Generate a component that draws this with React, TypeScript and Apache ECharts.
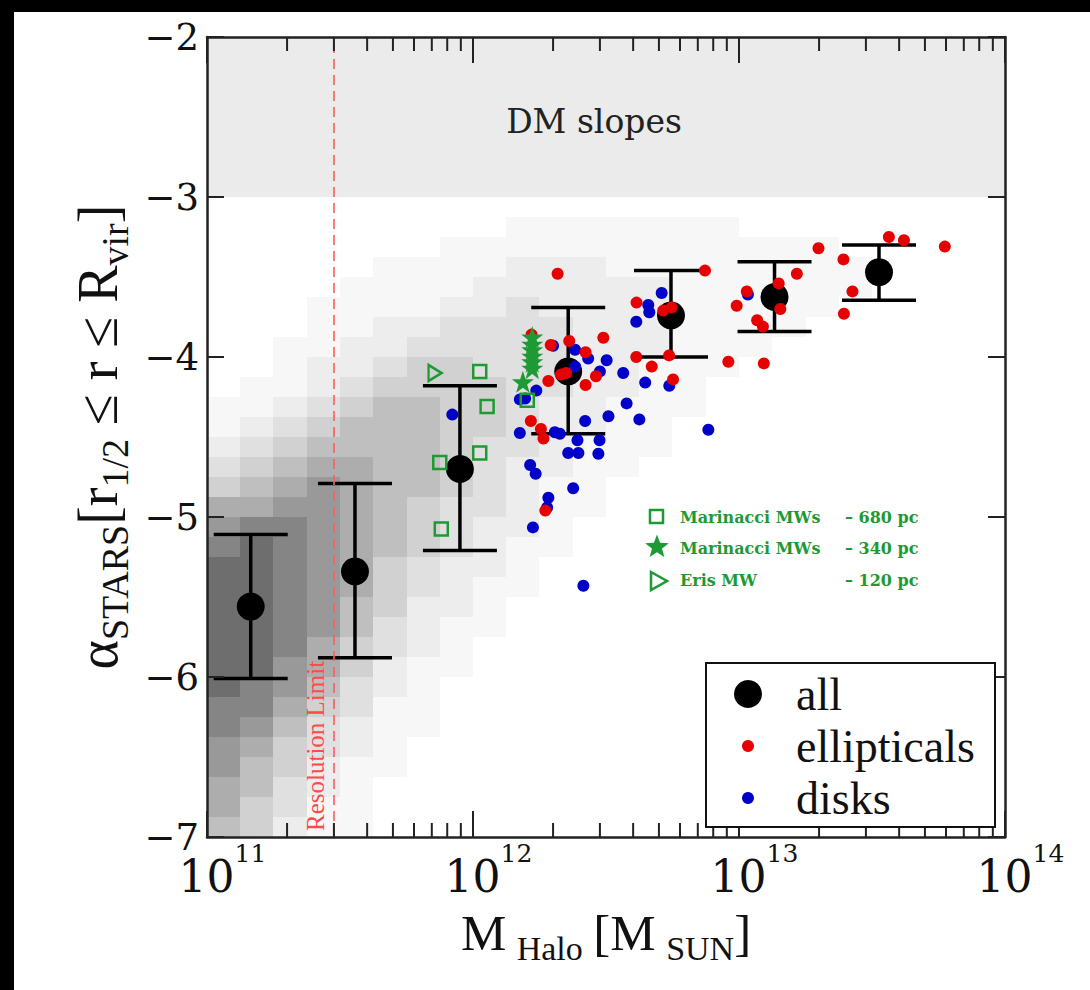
import React, { useEffect, useRef } from 'react';
import * as echarts from 'echarts';

// ---------------- data ----------------
const massMin = 1e11;
const massMax = 1e14;
const alphaMin = -7;
const alphaMax = -2;
const dmSlopeBand = [-3, -2];
const resolutionLimit = 3e11;

// "all": binned medians with spread
const allMass = [1.46e11, 3.6e11, 8.93e11, 2.28e12, 5.55e12, 1.36e13, 3.36e13];
const allAlpha = [-5.56, -5.34, -4.7, -4.09, -3.74, -3.625, -3.47];
const allLow = [-6.01, -5.88, -5.21, -4.48, -4.0, -3.84, -3.645];
const allHigh = [-5.11, -4.79, -4.18, -3.69, -3.46, -3.405, -3.3];

// ellipticals
const ellMass = [
  2.08e12, 1.66e12, 1.96e12, 2.3e12, 2.65e12, 3.09e12, 1.92e12, 2.14e12, 2.24e12, 2.65e12,
  2.9e12, 4.12e12, 4.11e12, 4.7e12, 5.46e12, 5.65e12, 7.45e12, 5.19e12, 5.58e12, 1.65e12,
  1.8e12, 1.84e12, 1.99e13, 2.47e13, 3.66e13, 4.17e13, 5.94e13, 1.65e13, 1.41e13, 1.07e13,
  9.8e12, 1.43e13, 1.17e13, 1.23e13, 2.67e13, 2.48e13, 9.12e12, 1.24e13, 1.87e12,
];
const ellAlpha = [
  -3.48, -3.86, -3.925, -3.9, -3.97, -3.88, -4.15, -4.11, -4.1, -4.175,
  -4.12, -3.66, -4.0, -4.06, -3.99, -4.14, -3.46, -3.71, -3.69, -4.4,
  -4.45, -4.51, -3.32, -3.39, -3.25, -3.27, -3.31, -3.48, -3.54, -3.59,
  -3.68, -3.7, -3.77, -3.81, -3.59, -3.73, -4.03, -4.04, -4.96,
];

// disks
const diskMass = [
  5.12e12, 4.56e12, 4.6e12, 4.11e12, 2.0e12, 2.42e12, 2.71e12, 3.18e12, 2.42e12, 3.0e12,
  3.67e12, 4.44e12, 1.73e12, 1.5e12, 3.78e12, 3.23e12, 4.22e12, 2.64e12, 1.5e12, 2.03e12,
  2.12e12, 2.47e12, 2.99e12, 2.28e12, 2.49e12, 2.96e12, 7.67e12, 5.47e12, 1.64e12, 1.72e12,
  2.38e12, 1.92e12, 1.9e12, 1.68e12, 2.6e12, 8.36e11, 1.08e13, 1.57e12,
];
const diskAlpha = [
  -3.6, -3.675, -3.72, -3.78, -3.93, -3.955, -4.01, -4.02, -4.06, -4.09,
  -4.1, -4.16, -4.21, -4.265, -4.29, -4.37, -4.39, -4.4, -4.475, -4.47,
  -4.48, -4.52, -4.52, -4.6, -4.6, -4.605, -4.455, -4.18, -4.675, -4.73,
  -4.82, -4.88, -4.94, -5.065, -5.43, -4.36, -3.61, -4.26,
];

// Marinacci MWs - 680 pc
const mar680Mass = [1.06e12, 1.13e12, 1.06e12, 7.5e11, 7.6e11, 1.6e12];
const mar680Alpha = [-4.09, -4.31, -4.6, -4.66, -5.075, -4.27];
// Marinacci MWs - 340 pc
const mar340Mass = [1.67e12, 1.67e12, 1.67e12, 1.67e12, 1.67e12, 1.67e12, 1.54e12];
const mar340Alpha = [-3.875, -3.92, -3.955, -3.995, -4.03, -4.07, -4.155];
// Eris MW - 120 pc
const erisMass = [7.2e11];
const erisAlpha = [-4.1];

const minorTickMasses = [
  2e11, 3e11, 4e11, 5e11, 6e11, 7e11, 8e11, 9e11,
  2e12, 3e12, 4e12, 5e12, 6e12, 7e12, 8e12, 9e12,
  2e13, 3e13, 4e13, 5e13, 6e13, 7e13, 8e13, 9e13,
];

// background simulated haloes: density level (0-9) of the grey cloud,
// one string per mass bin (log10 M from 11 in steps of 0.125),
// characters from alpha = -3 downwards in steps of 0.125
const cloudLogMassStart = 11;
const cloudLogMassStep = 0.125;
const cloudAlphaTop = -3;
const cloudAlphaStep = 0.125;
const cloudDensity = [
  '00000000001123467899999998877665',
  '00000000011234568999999988765544',
  '00000001112345678888888776544332',
  '00000111223456777777776654332211',
  '00001112234556666666554433221111',
  '00011122345555555544433221111000',
  '00011123445555544433222111100000',
  '00111233444444433322211100000000',
  '00112233344433332221110000000000',
  '01122333333332222111000000000000',
  '01122233332222111100000000000000',
  '01122222222211110000000000000000',
  '01112222221111000000000000000000',
  '01112222111110000000000000000000',
  '01111111111000000000000000000000',
  '01111111100000000000000000000000',
  '00111111000000000000000000000000',
  '00111110000000000000000000000000',
  '00111100000000000000000000000000',
  '00011000000000000000000000000000',
];

// ---------------- styles ----------------
const SERIF = 'Liberation Serif';
const TICKFONT = 'DejaVu Serif';
const GREEN = '#1e9a34';
const RED = '#e60000';
const BLUE = '#0000c8';
const AXIS = '#222';
const cloudShade = [0, 0.03, 0.07, 0.12, 0.18, 0.25, 0.32, 0.4, 0.48, 0.57];
const STAR = 'path://M50,0 L61.8,35.1 L98.1,35.1 L68.8,56.7 L79.4,91.3 L50,70 L20.6,91.3 L31.2,56.7 L1.9,35.1 L38.2,35.1 Z';
const TRI = 'path://M0,0 L10,6 L0,12 Z';

function starPoints(cx: number, cy: number, r: number) {
  const pts: number[][] = [];
  for (let k = 0; k < 10; k++) {
    const rr = k % 2 === 0 ? r : r * 0.42;
    const a = -Math.PI / 2 + (k * Math.PI) / 5;
    pts.push([cx + rr * Math.cos(a), cy + rr * Math.sin(a)]);
  }
  return pts;
}

function buildCloud() {
  const cells: number[][] = [];
  cloudDensity.forEach((col, i) => {
    const s = col.padEnd(32, '0').slice(0, 32);
    const x0 = Math.pow(10, cloudLogMassStart + cloudLogMassStep * i);
    const x1 = Math.pow(10, cloudLogMassStart + cloudLogMassStep * (i + 1));
    for (let j = 0; j < s.length; j++) {
      const d = Number(s[j]);
      if (d > 0) {
        const yTop = cloudAlphaTop - cloudAlphaStep * j;
        cells.push([x0, x1, yTop - cloudAlphaStep, yTop, d]);
      }
    }
  });
  return cells;
}

function buildOption() {
  const xLabelRich = {
    b: { fontFamily: TICKFONT, fontSize: 44, lineHeight: 70, color: '#111', padding: [0, 0, 0, 31] },
    s: { fontFamily: TICKFONT, fontSize: 25, lineHeight: 30, color: '#111', verticalAlign: 'top' },
  };
  const xNameRich = {
    m: { fontFamily: SERIF, fontSize: 51, lineHeight: 64, color: '#111' },
    s: { fontFamily: SERIF, fontSize: 34, lineHeight: 42, color: '#111', verticalAlign: 'bottom' },
  };
  const yNameRich = {
    m: { fontFamily: SERIF, fontSize: 56, lineHeight: 72, color: '#111' },
    s: { fontFamily: SERIF, fontSize: 38, lineHeight: 47, color: '#111', verticalAlign: 'bottom' },
  };
  const tickStyle = { color: AXIS, width: 2 };
  const lineStyle = { color: AXIS, width: 2.5 };
  const greenText = (x: number, y: number, text: string) => ({
    type: 'text', z: 50, x, y,
    style: { text, fill: GREEN, fontFamily: TICKFONT, fontWeight: 'bold', fontSize: 16, textVerticalAlign: 'middle' },
  });
  const legendText = (y: number, text: string) => ({
    type: 'text', z: 61, x: 796, y,
    style: { text, fill: '#111', fontFamily: SERIF, fontSize: 46, textVerticalAlign: 'middle' },
  });

  return {
    animation: false,
    backgroundColor: '#fff',
    grid: { left: 207, right: 85, top: 37, bottom: 153, containLabel: false },
    xAxis: [
      {
        type: 'log', logBase: 10, min: massMin, max: massMax, splitNumber: 3, position: 'bottom', z: 10,
        axisLine: { show: true, onZero: false, lineStyle },
        axisTick: { show: true, inside: true, length: 26, lineStyle: tickStyle },
        splitLine: { show: false },
        axisLabel: {
          margin: 4,
          formatter: (v: number) => `{b|10}{s|${Math.round(Math.log10(v))}}`,
          rich: xLabelRich,
        },
        name: '{m|M} {s|Halo} {m|[M} {s|SUN}{m|]}',
        nameLocation: 'middle',
        nameGap: 64,
        nameTextStyle: { fontFamily: SERIF, fontSize: 42, color: '#111', rich: xNameRich },
      },
      {
        type: 'log', logBase: 10, min: massMin, max: massMax, splitNumber: 3, position: 'top', z: 10,
        axisLine: { show: true, onZero: false, lineStyle },
        axisTick: { show: true, inside: true, length: 26, lineStyle: tickStyle },
        splitLine: { show: false },
        axisLabel: { show: false },
      },
    ],
    yAxis: [
      {
        type: 'value', min: alphaMin, max: alphaMax, interval: 1, position: 'left', z: 10,
        axisLine: { show: true, onZero: false, lineStyle },
        axisTick: { show: true, inside: true, length: 17, lineStyle: tickStyle },
        splitLine: { show: false },
        axisLabel: {
          margin: 8,
          fontFamily: TICKFONT, fontSize: 37, color: '#111',
          formatter: (v: number) => (v < 0 ? '\u2212' + Math.abs(v) : String(v)),
        },
        name: '{m|\u03b1}{s|STARS}{m|[r}{s|1/2}{m| \u2264 r \u2264 R}{s|vir}{m|]}',
        nameLocation: 'middle',
        nameRotate: 90,
        nameGap: 68,
        nameTextStyle: { fontFamily: SERIF, fontSize: 44, color: '#111', rich: yNameRich },
      },
      {
        type: 'value', min: alphaMin, max: alphaMax, interval: 1, position: 'right', z: 10,
        axisLine: { show: true, onZero: false, lineStyle },
        axisTick: { show: true, inside: true, length: 17, lineStyle: tickStyle },
        splitLine: { show: false },
        axisLabel: { show: false },
      },
    ],
    series: [
      {
        name: 'cloud',
        type: 'custom',
        z: 1,
        silent: true,
        data: buildCloud(),
        encode: { x: [0, 1], y: [2, 3] },
        renderItem: (params: any, api: any) => {
          const p1 = api.coord([api.value(0), api.value(3)]);
          const p2 = api.coord([api.value(1), api.value(2)]);
          const x = Math.round(p1[0]);
          const y = Math.round(p1[1]);
          const d = api.value(4);
          return {
            type: 'rect',
            shape: { x, y, width: Math.round(p2[0]) - x, height: Math.round(p2[1]) - y },
            style: { fill: `rgba(0,0,0,${cloudShade[d]})` },
          };
        },
      },
      {
        name: 'limits',
        type: 'scatter',
        z: 2,
        data: [],
        markArea: {
          silent: true,
          itemStyle: { color: '#ebebeb' },
          label: {
            show: true, position: 'inside', formatter: 'DM slopes', offset: [-12, 4],
            fontFamily: TICKFONT, fontSize: 33, color: '#222',
          },
          data: [[{ yAxis: dmSlopeBand[0] }, { yAxis: dmSlopeBand[1] }]],
        },
        markLine: {
          silent: true,
          symbol: ['none', 'none'],
          lineStyle: { color: '#ff5c5c', width: 1.6, type: [10, 6] },
          label: {
            show: true, position: 'insideStartTop', formatter: 'Resolution Limit', distance: 6,
            fontFamily: SERIF, fontSize: 25, color: '#ff4a4a',
          },
          data: [[{ coord: [resolutionLimit, alphaMin] }, { coord: [resolutionLimit, alphaMax] }]],
        },
      },
      {
        name: 'minorTicks',
        type: 'custom',
        z: 10,
        silent: true,
        data: minorTickMasses.map((m) => [m, alphaMin]),
        encode: { x: 0, y: 1 },
        renderItem: (params: any, api: any) => {
          const m = api.value(0);
          const pb = api.coord([m, alphaMin]);
          const pt = api.coord([m, alphaMax]);
          const st = { stroke: AXIS, lineWidth: 2 };
          return {
            type: 'group',
            children: [
              { type: 'line', shape: { x1: pb[0], y1: pb[1], x2: pb[0], y2: pb[1] - 14 }, style: st },
              { type: 'line', shape: { x1: pt[0], y1: pt[1], x2: pt[0], y2: pt[1] + 14 }, style: st },
            ],
          };
        },
      },
      {
        name: 'errorbars',
        type: 'custom',
        z: 3,
        silent: true,
        data: allMass.map((m, i) => [m, allLow[i], allHigh[i]]),
        encode: { x: 0, y: [1, 2] },
        renderItem: (params: any, api: any) => {
          const m = api.value(0);
          const lo = api.coord([m, api.value(1)]);
          const hi = api.coord([m, api.value(2)]);
          const hw = 37;
          const st = { stroke: '#000', lineWidth: 3.5 };
          return {
            type: 'group',
            children: [
              { type: 'line', shape: { x1: lo[0], y1: lo[1], x2: hi[0], y2: hi[1] }, style: st },
              { type: 'line', shape: { x1: lo[0] - hw, y1: lo[1], x2: lo[0] + hw, y2: lo[1] }, style: st },
              { type: 'line', shape: { x1: hi[0] - hw, y1: hi[1], x2: hi[0] + hw, y2: hi[1] }, style: st },
            ],
          };
        },
      },
      {
        name: 'all', type: 'scatter', z: 4, symbol: 'circle', symbolSize: 28,
        itemStyle: { color: '#000', opacity: 1 },
        data: allMass.map((m, i) => [m, allAlpha[i]]),
      },
      {
        name: 'disks', type: 'scatter', z: 5, symbol: 'circle', symbolSize: 12,
        itemStyle: { color: BLUE, opacity: 1 },
        data: diskMass.map((m, i) => [m, diskAlpha[i]]),
      },
      {
        name: 'ellipticals', type: 'scatter', z: 6, symbol: 'circle', symbolSize: 12,
        itemStyle: { color: RED, opacity: 1 },
        data: ellMass.map((m, i) => [m, ellAlpha[i]]),
      },
      {
        name: 'Marinacci MWs - 680 pc', type: 'scatter', z: 7, symbol: 'rect', symbolSize: 13,
        itemStyle: { color: 'rgba(255,255,255,0)', borderColor: GREEN, borderWidth: 2.5, opacity: 1 },
        data: mar680Mass.map((m, i) => [m, mar680Alpha[i]]),
      },
      {
        name: 'Marinacci MWs - 340 pc', type: 'scatter', z: 7, symbol: STAR, symbolSize: 22,
        itemStyle: { color: GREEN, opacity: 1 },
        data: mar340Mass.map((m, i) => [m, mar340Alpha[i]]),
      },
      {
        name: 'Eris MW - 120 pc', type: 'scatter', z: 7, symbol: TRI, symbolSize: [13, 16],
        itemStyle: { color: 'rgba(255,255,255,0)', borderColor: GREEN, borderWidth: 2.5, opacity: 1 },
        data: erisMass.map((m, i) => [m, erisAlpha[i]]),
      },
    ],
    graphic: [
      // dark frame strips of the original image
      { type: 'rect', z: 100, shape: { x: 0, y: 0, width: 1090, height: 12 }, style: { fill: '#000' } },
      { type: 'rect', z: 100, shape: { x: 0, y: 0, width: 14, height: 990 }, style: { fill: '#000' } },
      // green annotation
      { type: 'rect', z: 50, shape: { x: 650, y: 510, width: 13, height: 13 }, style: { fill: 'none', stroke: GREEN, lineWidth: 2.5 } },
      { type: 'polygon', z: 50, shape: { points: starPoints(657, 547, 12.5) }, style: { fill: GREEN } },
      { type: 'polygon', z: 50, shape: { points: [[651, 572], [667, 581], [651, 590]] }, style: { fill: 'none', stroke: GREEN, lineWidth: 2.5 } },
      greenText(680, 517, 'Marinacci MWs'),
      greenText(680, 548, 'Marinacci MWs'),
      greenText(680, 580, 'Eris MW'),
      greenText(845, 517, '\u2013 680 pc'),
      greenText(845, 548, '\u2013 340 pc'),
      greenText(845, 580, '\u2013 120 pc'),
      // legend box
      { type: 'rect', z: 60, shape: { x: 706, y: 663, width: 289, height: 164 }, style: { fill: '#fff', stroke: '#111', lineWidth: 2 } },
      { type: 'circle', z: 61, shape: { cx: 748, cy: 694, r: 14 }, style: { fill: '#000' } },
      { type: 'circle', z: 61, shape: { cx: 748, cy: 746, r: 6 }, style: { fill: RED } },
      { type: 'circle', z: 61, shape: { cx: 748, cy: 798, r: 6 }, style: { fill: BLUE } },
      legendText(694, 'all'),
      legendText(746, 'ellipticals'),
      legendText(798, 'disks'),
    ],
  };
}

export default function App() {
  const ref = useRef<HTMLDivElement>(null);
  useEffect(() => {
    if (!ref.current) return;
    const chart = echarts.init(ref.current, null, { renderer: 'svg' });
    chart.setOption(buildOption() as any);
    return () => chart.dispose();
  }, []);
  return (
    <div style={{ position: 'fixed', left: 0, top: 0, width: 1090, height: 990, background: '#fff' }}>
      <div ref={ref} style={{ width: 1090, height: 990 }} />
    </div>
  );
}
